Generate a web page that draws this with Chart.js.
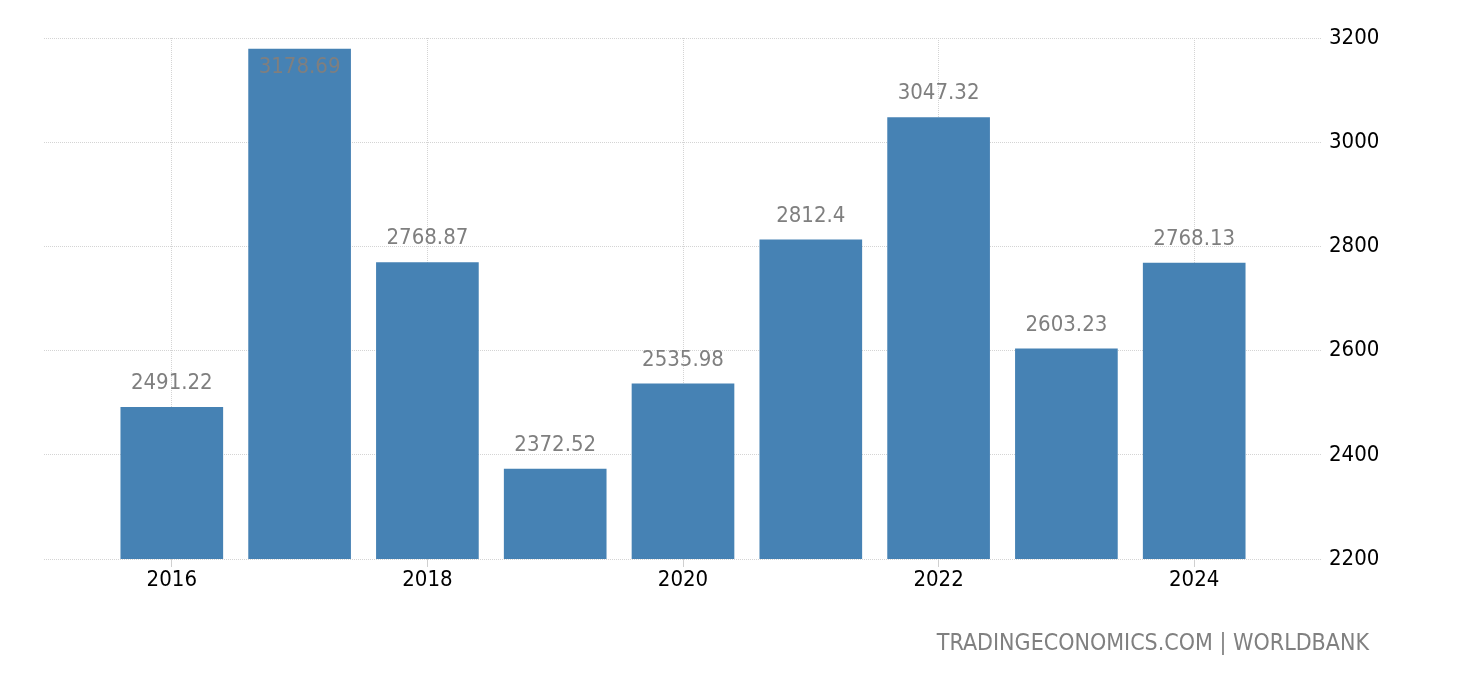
<!DOCTYPE html>
<html>
<head>
<meta charset="utf-8">
<script src="https://cdn.jsdelivr.net/npm/chart.js@4/dist/chart.umd.min.js"></script>
<style>
  html, body { margin: 0; padding: 0; background: #fff; }
  #wrap { position: relative; width: 1460px; height: 680px; }
  #c { position: absolute; left: 0; top: 0; }
  #src { position: absolute; left: 0; top: 629px; width: 1369px; text-align: right;
         font-family: "DejaVu Sans Condensed", "DejaVu Sans", sans-serif; font-size: 23px; line-height: 26px; color: #808080; white-space: nowrap; }
</style>
</head>
<body>
<div id="wrap">
  <canvas id="c" width="1460" height="680"></canvas>
  <div id="src">TRADINGECONOMICS.COM | WORLDBANK</div>
</div>
<script>
const years = [2016, 2017, 2018, 2019, 2020, 2021, 2022, 2023, 2024];
const values = [2491.22, 3178.69, 2768.87, 2372.52, 2535.98, 2812.4, 3047.32, 2603.23, 2768.13];
const xTickYears = [2016, 2018, 2020, 2022, 2024];
const yTicks = [2200, 2400, 2600, 2800, 3000, 3200];

const FONT = '"DejaVu Sans Condensed", "DejaVu Sans", sans-serif';

const valueLabels = {
  id: 'valueLabels',
  afterDatasetsDraw(chart) {
    const ctx = chart.ctx;
    const meta = chart.getDatasetMeta(0);
    const area = chart.chartArea;
    ctx.save();
    ctx.font = '22px ' + FONT;
    ctx.fillStyle = '#7f7f7f';
    ctx.textAlign = 'center';
    ctx.textBaseline = 'middle';
    meta.data.forEach((bar, i) => {
      let y = bar.y - 24;
      if (y - 11 < area.top) y = bar.y + 18;
      ctx.fillText(String(values[i]), bar.x, y);
    });
    ctx.restore();
  }
};

new Chart(document.getElementById('c'), {
  type: 'bar',
  data: {
    datasets: [{
      data: years.map((y, i) => ({ x: y, y: values[i] })),
      backgroundColor: '#4682b4',
      borderWidth: 0,
      barThickness: 102
    }]
  },
  options: {
    responsive: false,
    devicePixelRatio: 1,
    animation: false,
    layout: { padding: { left: 44, top: 38, right: 0, bottom: 81 } },
    plugins: { legend: { display: false }, tooltip: { enabled: false }, title: { display: false } },
    scales: {
      x: {
        type: 'linear',
        min: 2015,
        max: 2025,
        offset: false,
        afterBuildTicks: (s) => { s.ticks = xTickYears.map(v => ({ value: v })); },
        afterFit: (s) => { s.height = 40; },
        ticks: {
          callback: (v) => String(v),
          color: '#000',
          font: { family: FONT, size: 22 },
          padding: 0,
          maxRotation: 0,
          autoSkip: false
        },
        grid: {
          offset: false,
          color: '#d4d4d4',
          lineWidth: 1,
          drawTicks: true,
          tickLength: 8,
          tickColor: '#d0d0d0',
          tickBorderDash: []
        },
        border: { display: false, dash: [1, 1] }
      },
      y: {
        position: 'right',
        min: 2200,
        max: 3200,
        afterBuildTicks: (s) => { s.ticks = yTicks.map(v => ({ value: v })); },
        afterFit: (s) => { s.width = 138; },
        ticks: {
          callback: (v) => String(v),
          color: '#000',
          font: { family: FONT, size: 22 },
          padding: 7
        },
        grid: {
          color: '#d4d4d4',
          lineWidth: 1,
          drawTicks: false
        },
        border: { display: false, dash: [1, 1] }
      }
    }
  },
  plugins: [valueLabels]
});
</script>
</body>
</html>
